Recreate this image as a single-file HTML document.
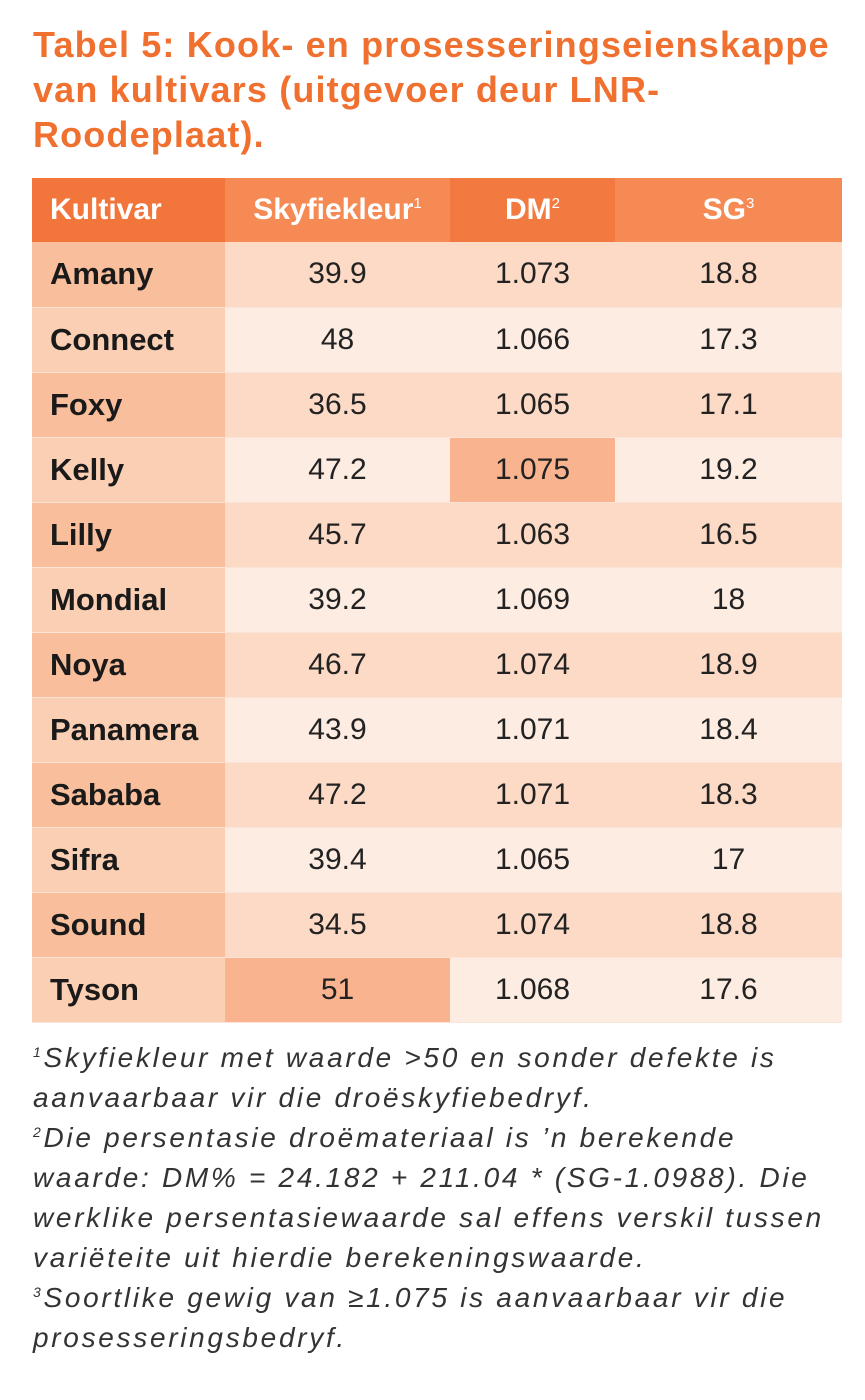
<!DOCTYPE html>
<html><head><meta charset="utf-8"><style>
body{margin:0;width:865px;height:1400px;background:#fff;font-family:"Liberation Sans",sans-serif;overflow:hidden;position:relative}
.t{position:absolute;left:33px;top:22px;font-size:36px;font-weight:bold;color:#f0702f;line-height:45px;letter-spacing:1.15px}
table{position:absolute;left:32px;top:178px;border-collapse:collapse;width:810px;table-layout:fixed}
td,th{height:65px;padding:0;font-size:30px;text-align:center;border-bottom:1px solid #fbe3d5;box-sizing:border-box}
th{height:64px;color:#fff;font-weight:bold;font-size:30px;border-bottom:0}
th sup{font-size:15px;vertical-align:11px;font-weight:normal;line-height:0}
th:nth-child(1){background:#f2763c;text-align:left;padding-left:18px;width:193px}
th:nth-child(2){background:#f58a55;width:225px}
th:nth-child(3){background:#f27a40;width:165px}
th:nth-child(4){background:#f58a55}
td{color:#222;font-weight:300}
td:first-child{text-align:left;padding-left:18px;font-weight:bold;color:#1a1a1a;font-size:31px}
tr.o td{background:#fcdac6}tr.o td:first-child{background:#f9bf9c}
tr.e td{background:#fdece2}tr.e td:first-child{background:#fbcfb4}
td.h{background:#f9b48f!important}
.f{position:absolute;left:33px;top:1038px;width:830px;font-size:28px;font-style:italic;color:#333;line-height:40px;letter-spacing:2.7px;white-space:nowrap}
.f sup{font-size:14px;vertical-align:10px;line-height:0}
</style></head><body>
<div class="t">Tabel 5: Kook- en prosesseringseienskappe<br>van kultivars (uitgevoer deur LNR-<br>Roodeplaat).</div>
<table>
<tr><th>Kultivar</th><th>Skyfiekleur<sup>1</sup></th><th>DM<sup>2</sup></th><th>SG<sup>3</sup></th></tr>
<tr class="o"><td>Amany</td><td>39.9</td><td>1.073</td><td>18.8</td></tr>
<tr class="e"><td>Connect</td><td>48</td><td>1.066</td><td>17.3</td></tr>
<tr class="o"><td>Foxy</td><td>36.5</td><td>1.065</td><td>17.1</td></tr>
<tr class="e"><td>Kelly</td><td>47.2</td><td class="h">1.075</td><td>19.2</td></tr>
<tr class="o"><td>Lilly</td><td>45.7</td><td>1.063</td><td>16.5</td></tr>
<tr class="e"><td>Mondial</td><td>39.2</td><td>1.069</td><td>18</td></tr>
<tr class="o"><td>Noya</td><td>46.7</td><td>1.074</td><td>18.9</td></tr>
<tr class="e"><td>Panamera</td><td>43.9</td><td>1.071</td><td>18.4</td></tr>
<tr class="o"><td>Sababa</td><td>47.2</td><td>1.071</td><td>18.3</td></tr>
<tr class="e"><td>Sifra</td><td>39.4</td><td>1.065</td><td>17</td></tr>
<tr class="o"><td>Sound</td><td>34.5</td><td>1.074</td><td>18.8</td></tr>
<tr class="e"><td>Tyson</td><td class="h">51</td><td>1.068</td><td>17.6</td></tr>
</table>
<div class="f"><sup>1</sup>Skyfiekleur met waarde &gt;50 en sonder defekte is<br>aanvaarbaar vir die droëskyfiebedryf.<br><sup>2</sup>Die persentasie droëmateriaal is ’n berekende<br>waarde: DM% = 24.182 + 211.04 * (SG-1.0988). Die<br>werklike persentasiewaarde sal effens verskil tussen<br>variëteite uit hierdie berekeningswaarde.<br><sup>3</sup>Soortlike gewig van ≥1.075 is aanvaarbaar vir die<br>prosesseringsbedryf.</div>
</body></html>
